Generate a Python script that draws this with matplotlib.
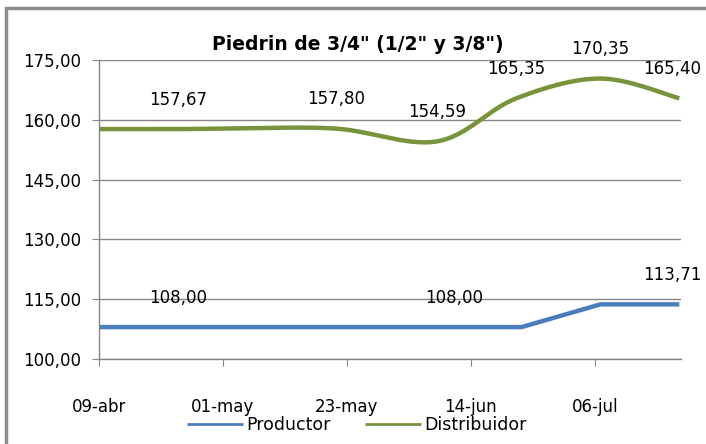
import numpy as np
import matplotlib
matplotlib.use("Agg")
import matplotlib.pyplot as plt
import matplotlib.dates as mdates
from matplotlib.patches import Rectangle
from datetime import datetime

# data
dist_dates = ["2024-04-09", "2024-04-23", "2024-05-02", "2024-05-21",
              "2024-06-08", "2024-06-22", "2024-07-07", "2024-07-21"]
dist_vals = [157.67, 157.67, 157.80, 157.80, 154.59, 165.35, 170.35, 165.40]
dist_lab = [1, 3, 4, 5, 6, 7]   # points with a label

prod_dates = ["2024-04-09", "2024-04-23", "2024-06-11", "2024-06-23",
              "2024-07-07", "2024-07-21"]
prod_vals = [108.00, 108.00, 108.00, 108.00, 113.71, 113.71]
prod_lab = [1, 2, 5]

xtick_dates = ["2024-04-09", "2024-05-01", "2024-05-23", "2024-06-14", "2024-07-06"]
xtick_labels = ["09-abr", "01-may", "23-may", "14-jun", "06-jul"]
yticks = [100, 115, 130, 145, 160, 175]

def fmt(v):
    return ("%.2f" % v).replace(".", ",")

def smooth(x, y, n=30):
    # catmull-rom through the points, like excel smoothed lines
    x = np.asarray(x, float); y = np.asarray(y, float)
    px = np.concatenate([[x[0]], x, [x[-1]]])
    py = np.concatenate([[y[0]], y, [y[-1]]])
    xs, ys = [], []
    t = np.linspace(0, 1, n)
    for i in range(1, len(px) - 2):
        for arr, out in ((px, xs), (py, ys)):
            p0, p1, p2, p3 = arr[i-1], arr[i], arr[i+1], arr[i+2]
            m1 = (p2 - p0) / 2.0
            m2 = (p3 - p1) / 2.0
            h00 = 2*t**3 - 3*t**2 + 1
            h10 = t**3 - 2*t**2 + t
            h01 = -2*t**3 + 3*t**2
            h11 = t**3 - t**2
            out.extend(h00*p1 + h10*m1 + h01*p2 + h11*m2)
    return np.array(xs), np.array(ys)

dx = mdates.date2num([datetime.fromisoformat(d) for d in dist_dates])
px = mdates.date2num([datetime.fromisoformat(d) for d in prod_dates])

fig = plt.figure(figsize=(7.06, 4.44), dpi=100)
ax = fig.add_axes([99/706, 1-359/444, (681-99)/706, (359-60)/444])

grid_c = "#868686"
blue = "#4A7EBB"
green = "#77933C"

sx, sy = smooth(dx, dist_vals)
ax.plot(px, prod_vals, color=blue, lw=3.2, solid_capstyle="butt", label="Productor")
ax.plot(sx, sy, color=green, lw=3.2, solid_capstyle="butt", label="Distribuidor")

lab_font = dict(family="DejaVu Sans", fontsize=12, ha="center", va="center")
for i in dist_lab:
    shift = -5 if i == len(dist_vals) - 1 else 0
    ax.annotate(fmt(dist_vals[i]), (dx[i], dist_vals[i]), xytext=(shift, 21),
                textcoords="offset points", annotation_clip=False, **lab_font)
for i in prod_lab:
    shift = -5 if i == len(prod_vals) - 1 else 0
    ax.annotate(fmt(prod_vals[i]), (px[i], prod_vals[i]), xytext=(shift, 21),
                textcoords="offset points", annotation_clip=False, **lab_font)

x0 = mdates.date2num(datetime(2024, 4, 9))
ax.set_xlim(x0, x0 + 103.3)
ax.set_ylim(100, 175)
ax.set_yticks(yticks)
ax.set_yticklabels([fmt(v) for v in yticks], fontsize=12, family="DejaVu Sans")
xt = mdates.date2num([datetime.fromisoformat(d) for d in xtick_dates])
ax.set_xticks(xt)
ax.set_xticklabels(xtick_labels, fontsize=12, family="DejaVu Sans")
ax.grid(axis="y", color=grid_c, lw=1)
ax.set_axisbelow(True)
for s in ["top", "right"]:
    ax.spines[s].set_visible(False)
for s in ["left", "bottom"]:
    ax.spines[s].set_color(grid_c)
    ax.spines[s].set_linewidth(1)
ax.tick_params(axis="y", length=5, color=grid_c, pad=8)
ax.tick_params(axis="x", length=5, color=grid_c, pad=23)

fig.text(358/706, 1-45/444, 'Piedrin de 3/4" (1/2" y 3/8")', ha="center", va="center",
         fontsize=13.5, fontweight="bold", family="DejaVu Sans")

fig.legend(loc="center", bbox_to_anchor=(357/706, 1-425/444), ncol=2, frameon=False,
           fontsize=12.5, handlelength=3.2, handletextpad=0.2, columnspacing=2.0)
for l in fig.legends[0].get_lines():
    l.set_linewidth(2)

fig.patches.append(Rectangle((6/706, -0.1), 1.2, 1 - 8/444 + 0.1, transform=fig.transFigure,
                             fill=False, edgecolor="#8c8c8c", lw=2.5))

fig.savefig("out.png", dpi=100)
